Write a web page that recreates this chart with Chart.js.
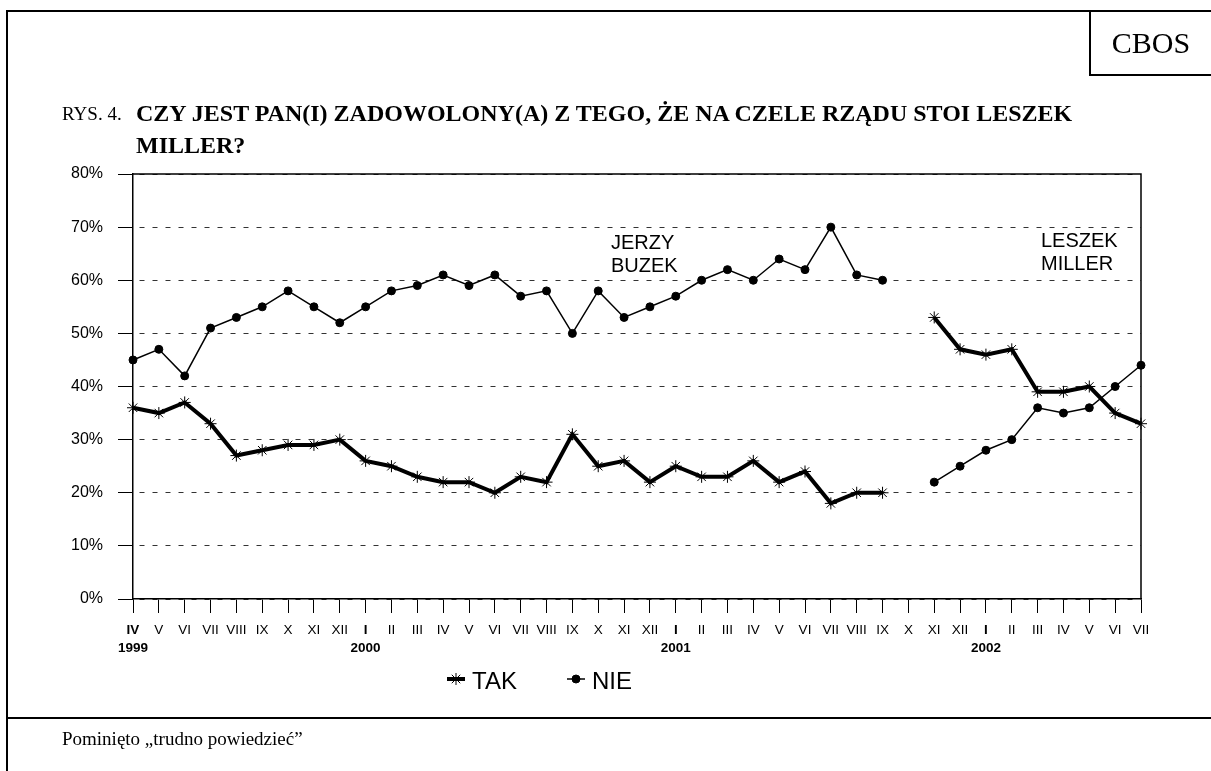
<!DOCTYPE html>
<html>
<head>
<meta charset="utf-8">
<title>CBOS RYS. 4</title>
<script src="https://cdn.jsdelivr.net/npm/chart.js@4.4.1/dist/chart.umd.min.js"></script>
<style>
  body { margin: 0; background: #fff; }
  #page { position: relative; width: 1211px; height: 771px; overflow: hidden; }
  #chart { position: absolute; left: 0; top: 0; }
  .line { position: absolute; background: #000; }
  .serif { position: absolute; font-family: "Liberation Serif", "Times New Roman", serif; color: #000; white-space: nowrap; }
  .sans { position: absolute; font-family: "Liberation Sans", Arial, sans-serif; color: #000; white-space: nowrap; }
</style>
</head>
<body>
<div id="page">
  <canvas id="chart" width="1211" height="771"></canvas>

  <!-- frame -->
  <div class="line" style="left:6px;top:10px;width:1205px;height:2px"></div>
  <div class="line" style="left:6px;top:10px;width:2px;height:761px"></div>
  <div class="line" style="left:6px;top:717px;width:1205px;height:2px"></div>
  <div class="line" style="left:1089px;top:10px;width:2px;height:66px"></div>
  <div class="line" style="left:1089px;top:74px;width:122px;height:2px"></div>

  <div class="serif" style="left:1091px;top:28px;width:120px;text-align:center;font-size:30px;line-height:30px">CBOS</div>

  <div class="serif" style="left:62px;top:98px;font-size:19px;line-height:32px">RYS. 4.</div>
  <div class="serif" style="left:136px;top:97px;font-size:24px;line-height:32px;font-weight:bold">CZY JEST PAN(I) ZADOWOLONY(A) Z TEGO, ŻE NA CZELE RZĄDU STOI LESZEK<br>MILLER?</div>

  <div class="sans" style="left:611px;top:231px;font-size:20px;line-height:23px">JERZY<br>BUZEK</div>
  <div class="sans" style="left:1041px;top:229px;font-size:20px;line-height:23px">LESZEK<br>MILLER</div>

  <div class="serif" style="left:62px;top:729px;font-size:19px;line-height:19px">Pominięto „trudno powiedzieć”</div>
</div>

<script>
// months IV 1999 .. VII 2002
const months = ['IV','V','VI','VII','VIII','IX','X','XI','XII',
  'I','II','III','IV','V','VI','VII','VIII','IX','X','XI','XII',
  'I','II','III','IV','V','VI','VII','VIII','IX','X','XI','XII',
  'I','II','III','IV','V','VI','VII'];
const years = ['1999','','','','','','','','',
  '2000','','','','','','','','','','','',
  '2001','','','','','','','','','','','',
  '2002','','','','','',''];

// % answers, null = no survey
const tak = [36,35,37,33,27,28,29,29,30,
  26,25,23,22,22,20,23,22,31,25,26,22,
  25,23,23,26,22,24,18,20,20,null,53,47,
  46,47,39,39,40,35,33];
const nie = [45,47,42,51,53,55,58,55,52,
  55,58,59,61,59,61,57,58,50,58,53,55,
  57,60,62,60,64,62,70,61,60,null,22,25,
  28,30,36,35,36,40,44];

const tickLabels = months.map((m, i) => years[i] ? [m, years[i]] : m);

const SANS = '"Liberation Sans", Arial, sans-serif';

// box around plot (top + right side)
const plotFrame = {
  id: 'plotFrame',
  afterDraw(chart) {
    const { ctx, chartArea: a } = chart;
    ctx.save();
    ctx.strokeStyle = '#000';
    ctx.lineWidth = 1.5;
    ctx.beginPath();
    ctx.moveTo(a.left, a.top);
    ctx.lineTo(a.right, a.top);
    ctx.lineTo(a.right, a.bottom);
    ctx.stroke();
    ctx.restore();
  }
};

// legend: short line + marker + label
const lineLegend = {
  id: 'lineLegend',
  afterDraw(chart) {
    const ctx = chart.ctx;
    const startX = [447, 567];
    const y = 679;
    ctx.save();
    ctx.font = '24px ' + SANS;
    ctx.textBaseline = 'middle';
    ctx.fillStyle = '#000';
    ctx.strokeStyle = '#000';
    chart.data.datasets.forEach((ds, i) => {
      const x = startX[i];
      ctx.lineWidth = ds.borderWidth;
      ctx.beginPath();
      ctx.moveTo(x, y);
      ctx.lineTo(x + 18, y);
      ctx.stroke();
      ctx.lineWidth = ds.pointBorderWidth;
      Chart.helpers.drawPoint(ctx, {
        pointStyle: ds.pointStyle, radius: ds.pointRadius, rotation: 0, borderWidth: ds.pointBorderWidth
      }, x + 9, y);
      ctx.fillText(ds.label, x + 25, y + 3);
    });
    ctx.restore();
  }
};

new Chart(document.getElementById('chart'), {
  type: 'line',
  data: {
    labels: tickLabels,
    datasets: [
      {
        label: 'TAK',
        data: tak,
        borderColor: '#000',
        borderWidth: 4,
        pointStyle: 'star',
        pointRadius: 6,
        pointBorderWidth: 1,
        pointBorderColor: '#000',
        pointBackgroundColor: '#000',
        spanGaps: false,
        clip: false
      },
      {
        label: 'NIE',
        data: nie,
        borderColor: '#000',
        borderWidth: 1.5,
        pointStyle: 'circle',
        pointRadius: 4,
        pointBorderWidth: 1,
        pointBorderColor: '#000',
        pointBackgroundColor: '#000',
        spanGaps: false,
        clip: false
      }
    ]
  },
  options: {
    responsive: false,
    animation: false,
    layout: { padding: { left: 0, top: 174, right: 70, bottom: 0 } },
    plugins: {
      legend: { display: false },
      tooltip: { enabled: false }
    },
    scales: {
      x: {
        afterFit: (s) => { s.height = 172; },
        grid: { drawOnChartArea: false, color: '#000', lineWidth: 1, tickLength: 14 },
        border: { color: '#000', width: 1.5 },
        ticks: {
          autoSkip: false,
          maxRotation: 0,
          minRotation: 0,
          padding: 8,
          color: '#000',
          font: (c) => ({ family: SANS, size: 13.5, lineHeight: '18px', weight: years[c.index] ? 'bold' : 'normal' })
        }
      },
      y: {
        min: 0,
        max: 80,
        afterFit: (s) => { s.width = 133; },
        grid: { color: '#333', lineWidth: 1, tickLength: 15, tickColor: '#000' },
        border: { color: '#000', width: 1.5, dash: [5, 8], dashOffset: 7 },
        ticks: {
          stepSize: 10,
          padding: 15,
          color: '#000',
          font: { family: SANS, size: 16 },
          callback: (v) => v + '%'
        }
      }
    }
  },
  plugins: [plotFrame, lineLegend]
});
</script>
</body>
</html>
